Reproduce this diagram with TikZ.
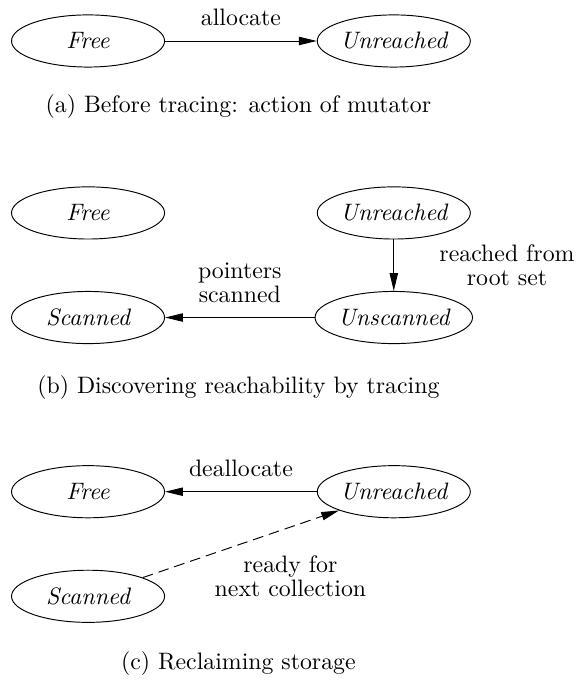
\documentclass[tikz,border=0pt]{standalone}
\usepackage{tikz}
\usetikzlibrary{arrows.meta,positioning,shapes.geometric}
\tikzset{
  state/.style={draw,ellipse,minimum width=2.26cm,minimum height=0.77cm,inner sep=0pt,font=\itshape},
  flow/.style={-{Triangle[length=7.5pt,width=3.5pt]}},
  dflow/.style={flow,dash pattern=on 4.5pt off 2.5pt},
  lbl/.style={align=center,inner sep=2pt},
  subcap/.style={inner sep=0pt}
}
\begin{document}
\begin{tikzpicture}[node distance=0.76cm and 2.24cm]
  \useasboundingbox (0,0) rectangle (8.5,-10.04);
  % (a) before tracing
  \node[state] (fa) at (1.30,-0.605) {Free};
  \node[state, right=of fa] (ua) {Unreached};
  \draw[flow] (fa) -- node[lbl, above=4pt] {allocate} (ua);
  \node[subcap] (capa) at (3.52,-1.57) {(a) Before tracing: action of mutator};
  % (b) tracing
  \node[state] (fb) at (1.30,-3.144) {Free};
  \node[state, right=of fb] (ub) {Unreached};
  \node[state, below=of ub] (nb) {Unscanned};
  \node[state, below=of fb] (sb) {Scanned};
  \draw[flow] (ub) -- node[lbl, right=17pt] {reached from\\[-2pt]root set} (nb);
  \draw[flow] (nb) -- node[lbl, above=4pt] {pointers\\[-2pt]scanned} (sb);
  \node[subcap] (capb) at (3.52,-5.72) {(b) Discovering reachability by tracing};
  % (c) reclaiming
  \node[state] (fc) at (1.30,-7.26) {Free};
  \node[state, right=of fc] (uc) {Unreached};
  \node[state, below=of fc] (sc) {Scanned};
  \draw[flow] (uc) -- node[lbl, above=4pt] {deallocate} (fc);
  \draw[dflow] (sc) -- node[lbl, below=2.8pt, xshift=20.8pt] {ready for\\[-2pt]next collection} (uc);
  \node[subcap] (capc) at (3.52,-9.79) {(c) Reclaiming storage};
\end{tikzpicture}
\end{document}
